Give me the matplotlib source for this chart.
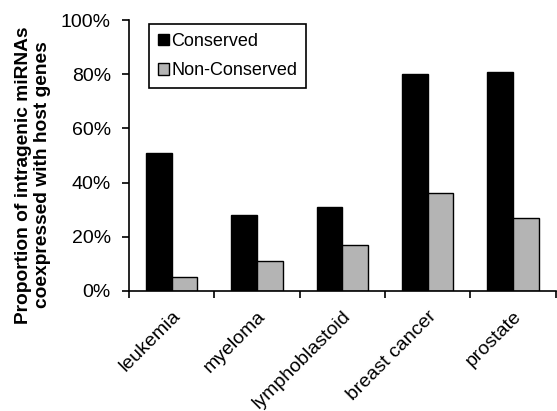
import matplotlib.pyplot as plt
import numpy as np

categories = ['leukemia', 'myeloma', 'lymphoblastoid', 'breast cancer', 'prostate']
conserved = [51, 28, 31, 80, 81]
non_conserved = [5, 11, 17, 36, 27]

plt.rcParams['font.family'] = ['Liberation Sans', 'DejaVu Sans']

fig = plt.figure(figsize=(5.57, 4.11), dpi=100)
ax = fig.add_axes([0.2316, 0.292, 0.766, 0.659])

x = np.arange(len(categories))
w = 0.3
ax.bar(x - w / 2, conserved, w, color='black', edgecolor='black', linewidth=1, label='Conserved')
ax.bar(x + w / 2, non_conserved, w, color='#b4b4b4', edgecolor='black', linewidth=1, label='Non-Conserved')

ax.set_xlim(-0.5, len(categories) - 0.5)
ax.set_ylim(0, 100)
ax.set_yticks(range(0, 101, 20))
ax.set_yticklabels(['%d%%' % v for v in range(0, 101, 20)], fontsize=14)

# ticks sit between the groups, labels at the group centres
ax.set_xticks(np.arange(len(categories) + 1) - 0.5)
ax.set_xticklabels([])
ax.set_xticks(x, minor=True)
ax.set_xticklabels(categories, minor=True, rotation=45, ha='right', rotation_mode='anchor', fontsize=14)
ax.tick_params(axis='x', which='minor', length=0, pad=12)
ax.tick_params(axis='both', which='major', length=5, width=1.2, direction='out')
ax.tick_params(axis='y', pad=8)

for s in ['top', 'right']:
    ax.spines[s].set_visible(False)
for s in ['left', 'bottom']:
    ax.spines[s].set_linewidth(1.2)

fig.text(33 / 557, 1 - 175 / 411, 'Proportion of intragenic miRNAs\ncoexpressed with host genes',
         fontsize=13.8, fontweight='bold', rotation=90, ha='center', va='center', linespacing=1.15)

leg = ax.legend(loc='upper left', bbox_to_anchor=(0.025, 1.02), fontsize=13,
                fancybox=False, edgecolor='black', handlelength=0.6, handleheight=0.6,
                handletextpad=0.15, borderpad=0.5, labelspacing=0.7, framealpha=1)
leg.get_frame().set_linewidth(1.2)

fig.savefig('out.png', dpi=100)
